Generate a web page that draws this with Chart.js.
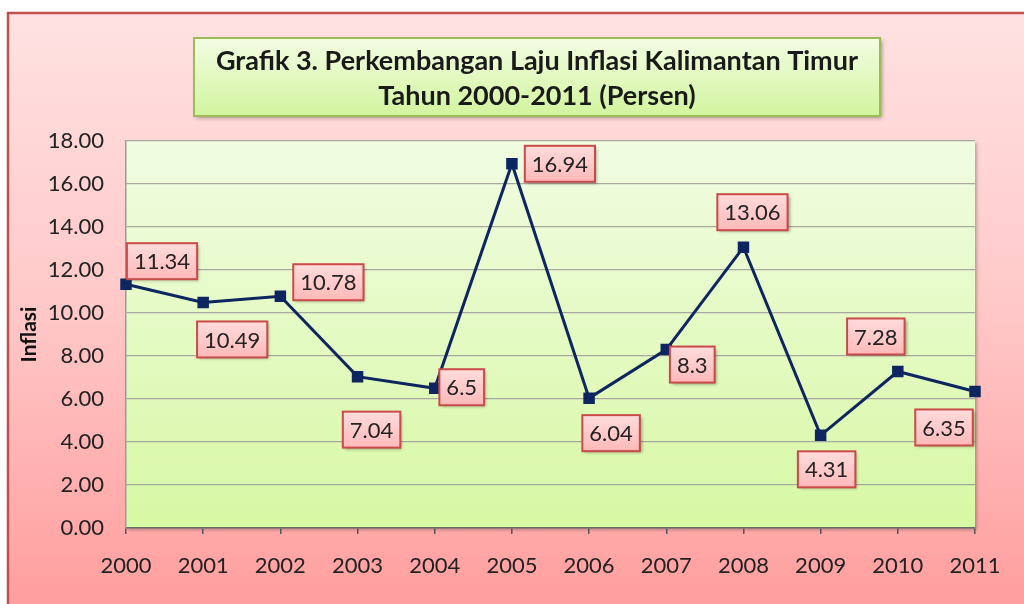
<!DOCTYPE html>
<html>
<head>
<meta charset="utf-8">
<script src="https://cdn.jsdelivr.net/npm/chart.js@4.4.1/dist/chart.umd.min.js"></script>
<style>
html,body{margin:0;padding:0;background:#fff;}
#wrap{width:1024px;height:604px;}
</style>
</head>
<body>
<div id="wrap"><canvas id="c" width="1024" height="604"></canvas></div>
<script>
const years = ['2000','2001','2002','2003','2004','2005','2006','2007','2008','2009','2010','2011'];
const inflasi = [11.34, 10.49, 10.78, 7.04, 6.5, 16.94, 6.04, 8.3, 13.06, 4.31, 7.28, 6.35];
const valueLabels = ['11.34','10.49','10.78','7.04','6.5','16.94','6.04','8.3','13.06','4.31','7.28','6.35'];
const titleLines = ['Grafik 3. Perkembangan Laju Inflasi Kalimantan Timur', 'Tahun 2000-2011 (Persen)'];
const yAxisTitle = 'Inflasi';
// label box offsets from each point (layout only)
const labelOffsets = [[36,-23],[29,37],[48,-14],[14,53],[27,-1],[48,0],[22,35],[26,15],[9,-35],[6,34],[-22,-35],[-31,36]];

const FONT = 'Lato, "Open Sans", sans-serif';

const bgPlugin = {
  id: 'bg',
  beforeDraw(chart) {
    const ctx = chart.ctx;
    const W = chart.width, H = chart.height;
    ctx.save();
    ctx.fillStyle = '#ffffff';
    ctx.fillRect(0, 0, W, H);
    const g = ctx.createLinearGradient(0, 12, 0, H);
    g.addColorStop(0, '#ffe2e2');
    g.addColorStop(0.5, '#ffc8c8');
    g.addColorStop(1, '#ff9e9e');
    ctx.fillStyle = g;
    ctx.fillRect(7, 12, W, H);
    ctx.strokeStyle = '#c0504d';
    ctx.lineWidth = 2.5;
    ctx.beginPath();
    ctx.moveTo(8, H + 5);
    ctx.lineTo(8, 13);
    ctx.lineTo(W + 5, 13);
    ctx.stroke();

    // title box
    const bx = 194, by = 38, bw = 686, bh = 78;
    ctx.save();
    ctx.shadowColor = 'rgba(0,0,0,0.35)';
    ctx.shadowBlur = 4;
    ctx.shadowOffsetX = 2;
    ctx.shadowOffsetY = 2;
    const tg = ctx.createLinearGradient(0, by, 0, by + bh);
    tg.addColorStop(0, '#f3fde3');
    tg.addColorStop(1, '#d2f49e');
    ctx.fillStyle = tg;
    ctx.fillRect(bx, by, bw, bh);
    ctx.restore();
    ctx.strokeStyle = '#9bbb59';
    ctx.lineWidth = 2;
    ctx.strokeRect(bx, by, bw, bh);
    ctx.fillStyle = '#1a1a1a';
    ctx.font = 'bold 27px ' + FONT;
    ctx.textAlign = 'center';
    ctx.textBaseline = 'middle';
    ctx.fillText(titleLines[0], bx + bw / 2, by + 23);
    ctx.fillText(titleLines[1], bx + bw / 2, by + 58);

    // plot area
    const a = chart.chartArea;
    ctx.save();
    ctx.shadowColor = 'rgba(0,0,0,0.25)';
    ctx.shadowBlur = 3;
    ctx.shadowOffsetX = 2;
    ctx.shadowOffsetY = 2;
    const pg = ctx.createLinearGradient(0, a.top, 0, a.bottom);
    pg.addColorStop(0, '#f1fce2');
    pg.addColorStop(1, '#d7f8a4');
    ctx.fillStyle = pg;
    ctx.fillRect(a.left, a.top, a.right - a.left, a.bottom - a.top);
    ctx.restore();
    ctx.restore();
  }
};

const labelPlugin = {
  id: 'valLabels',
  afterDatasetsDraw(chart) {
    const ctx = chart.ctx;
    const meta = chart.getDatasetMeta(0);
    ctx.save();
    ctx.font = '22px ' + FONT;
    meta.data.forEach((pt, i) => {
      const txt = valueLabels[i];
      const cx = pt.x + labelOffsets[i][0];
      const cy = pt.y + labelOffsets[i][1];
      const tw = ctx.measureText(txt).width;
      const w = tw + 14, h = 36;
      const x = cx - w / 2, y = cy - h / 2;
      ctx.save();
      ctx.shadowColor = 'rgba(0,0,0,0.35)';
      ctx.shadowBlur = 3;
      ctx.shadowOffsetX = 2;
      ctx.shadowOffsetY = 2;
      const g = ctx.createLinearGradient(0, y, 0, y + h);
      g.addColorStop(0, '#ffdcdc');
      g.addColorStop(1, '#ffb9b9');
      ctx.fillStyle = g;
      ctx.fillRect(x, y, w, h);
      ctx.restore();
      ctx.strokeStyle = '#c94a48';
      ctx.lineWidth = 2;
      ctx.strokeRect(x, y, w, h);
      ctx.fillStyle = '#222';
      ctx.textAlign = 'center';
      ctx.textBaseline = 'middle';
      ctx.fillText(txt, cx, cy + 1);
    });
    ctx.restore();
  }
};

new Chart(document.getElementById('c'), {
  type: 'line',
  data: {
    labels: years,
    datasets: [{
      data: inflasi,
      borderColor: '#0d2660',
      backgroundColor: '#0d2660',
      borderWidth: 3,
      pointStyle: 'rect',
      pointRadius: 6,
      pointHoverRadius: 6,
      tension: 0,
      clip: false
    }]
  },
  options: {
    responsive: false,
    animation: false,
    devicePixelRatio: 1,
    layout: { padding: { top: 141, right: 49, bottom: 0, left: 0 } },
    plugins: { legend: { display: false }, title: { display: false }, tooltip: { enabled: false } },
    scales: {
      x: {
        offset: false,
        grid: { drawOnChartArea: false, drawTicks: true, tickLength: 6, color: '#555', lineWidth: 1.5 },
        border: { color: '#6a6a6a', width: 1.5 },
        ticks: { font: { family: FONT, size: 22 }, color: '#222', padding: 19, maxRotation: 0, autoSkip: false },
        afterFit(s) { s.height = 76; }
      },
      y: {
        min: 0, max: 18,
        ticks: { stepSize: 2, font: { family: FONT, size: 22 }, color: '#222', padding: 22,
          callback: v => v.toFixed(2) },
        grid: { drawTicks: false, color: '#a8a8a0', lineWidth: 1.3 },
        border: { color: '#9a9a9a', width: 1.5 },
        title: { display: true, text: yAxisTitle, font: { family: FONT, size: 21, weight: 'bold' }, color: '#111', padding: { top: 17, bottom: 0 } },
        afterFit(s) { s.width = 126; }
      }
    }
  },
  plugins: [bgPlugin, labelPlugin]
});
</script>
</body>
</html>
